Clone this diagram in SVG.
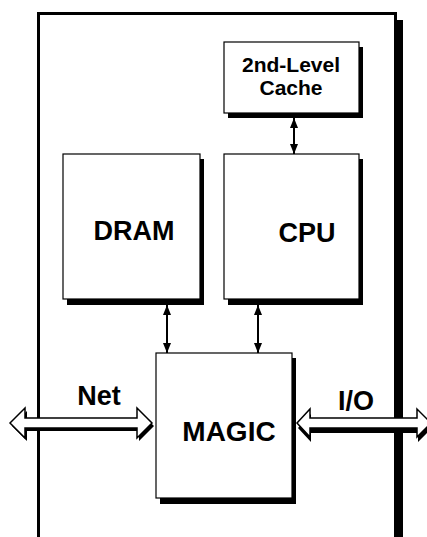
<svg xmlns="http://www.w3.org/2000/svg" width="427" height="537" viewBox="0 0 427 537">
<style>
.box{fill:#fff;stroke:#000;stroke-width:1.2}
.sh{fill:#000}
.t{font-family:"Liberation Sans",Arial,sans-serif;font-weight:bold;fill:#000;text-anchor:middle}
.c{stroke:#000;stroke-width:2;fill:none;marker-start:url(#ah);marker-end:url(#ah)}
.big{fill:#fff;stroke:#000;stroke-width:1.5;stroke-linejoin:miter}
</style>
<defs>
<marker id="ah" viewBox="0 0 10 8" refX="10" refY="4" markerWidth="11" markerHeight="8" markerUnits="userSpaceOnUse" orient="auto-start-reverse">
<path d="M0,0 L10,4 L0,8 Z" fill="#000"/>
</marker>
</defs>
<rect width="427" height="537" fill="#fff"/>
<g id="board">
<rect x="397" y="20" width="6" height="520" class="sh"/>
<rect x="38.5" y="13.5" width="357" height="600" fill="#fff" stroke="#000" stroke-width="3"/>
</g>
<g id="cache">
<rect x="228" y="47" width="135" height="71" class="sh"/>
<rect x="224" y="42" width="135" height="71" class="box"/>
<text x="291" y="72" class="t" font-size="21">2nd-Level</text>
<text x="291" y="95" class="t" font-size="21">Cache</text>
</g>
<g id="dram">
<rect x="67" y="159" width="137" height="146" class="sh"/>
<rect x="63" y="154" width="137" height="145" class="box"/>
<text x="134" y="240" class="t" font-size="27">DRAM</text>
</g>
<g id="cpu">
<rect x="228" y="159" width="135" height="146" class="sh"/>
<rect x="224" y="154" width="135" height="145" class="box"/>
<text x="307" y="242" class="t" font-size="27">CPU</text>
</g>
<g id="magic">
<rect x="160" y="358" width="136" height="146" class="sh"/>
<rect x="156" y="353" width="136" height="145" class="box"/>
<text x="229" y="441" class="t" font-size="28">MAGIC</text>
</g>
<g id="connectors">
<line x1="294" y1="118" x2="294" y2="154" class="c"/>
<line x1="167" y1="305" x2="167" y2="353" class="c"/>
<line x1="258" y1="305" x2="258" y2="353" class="c"/>
<g id="net">
<path d="M10,423 L25,408 L25,418 L137,418 L137,408 L152,423 L137,438 L137,428 L25,428 L25,438 Z" class="sh" transform="translate(2,3)"/>
<path d="M10,423 L25,408 L25,418 L137,418 L137,408 L152,423 L137,438 L137,428 L25,428 L25,438 Z" class="big"/>
</g>
<g id="io">
<path d="M297,423 L310,409 L310,418 L417,418 L417,409 L431,423 L417,437 L417,428 L310,428 L310,437 Z" class="sh" transform="translate(1,5)"/>
<path d="M297,423 L310,409 L310,418 L417,418 L417,409 L431,423 L417,437 L417,428 L310,428 L310,437 Z" class="big"/>
</g>
</g>
<text x="99" y="405" class="t" font-size="27">Net</text>
<text x="356" y="410" class="t" font-size="27">I/O</text>
</svg>
